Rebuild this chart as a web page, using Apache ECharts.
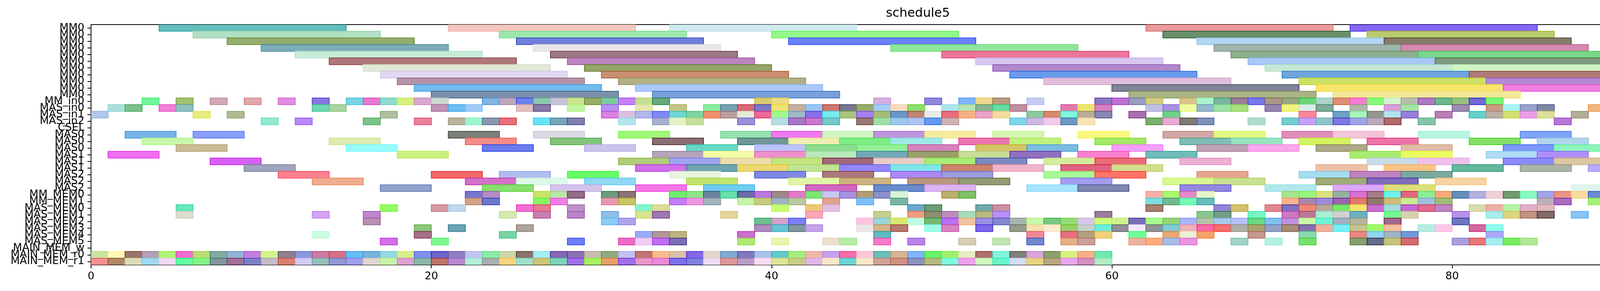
<!DOCTYPE html>
<html>
<head>
<meta charset="utf-8">
<script src="https://cdn.jsdelivr.net/npm/echarts@6/dist/echarts.min.js"></script>
<style>
html,body{margin:0;padding:0;background:#fff;}
#chart{width:4477px;height:746px;}
</style>
</head>
<body>
<div id="chart"></div>
<script>
// ---------- categories (top to bottom) ----------
const categories = [
  'MM0','MM0','MM0','MM0','MM0','MM0','MM0','MM0','MM0','MM0','MM0',
  'MM_in0','MAS_in0','MAS_in1','MAS_in2','CSEL',
  'MAS0','MAS0','MAS0','MAS1','MAS1','MAS1','MAS2','MAS2','MAS2',
  'MM_MEM0','MM_MEM1',
  'MAS_MEM0','MAS_MEM1','MAS_MEM2','MAS_MEM3','MAS_MEM4','MAS_MEM5',
  'MAIN_MEM_w','MAIN_MEM_r0','MAIN_MEM_r1'
];
const xTicks = [0, 20, 40, 60, 80];
const xMax = 97;

// ---------- task durations per row group ----------
const mm0Duration = 11;
const masDuration = 3;
const unitDuration = 1;

// ---------- task start times, one list per row ----------
const mm0Starts = [
  [4,21,34,62,74],
  [6,24,40,63,75],
  [8,25,41,65,76],
  [10,26,47,66,77],
  [12,27,50,67,78],
  [14,28,52,68,79],
  [16,29,53,69,80],
  [17,30,54,70,81],
  [18,31,56,71,82],
  [19,32,60,72,83],
  [20,33,61,73]
];
const mmIn0Starts = [3,5,7,9,11,13,15,16,17,18,19,20,23,24,25,26,27,28,29,30,31,32,33,39,40,46,49,51,52,53,55,59,60,61,62,64,65,66,67,68,69,70,71,72,73,74,75,76,77,78,79,80,81,82];
const masIn0Starts = [1,2,4,5,13,14,20,21,22,25,26,28,30,32,34,36,37,38,39,40,41,42,43,44,45,46,47,48,50,51,52,53,54,57,58,59,62,63,64,65,66,67,69,70,71,72,74,76,77,80,82,83,84,85,88,89,91,93];
const masIn1Starts = [0,6,8,17,30,31,32,33,34,35,36,37,38,39,40,41,42,43,44,45,46,47,48,49,50,51,52,53,55,56,57,58,59,61,63,71,73,74,75,76,77,79,81,82,83,84,85,87,92];
const masIn2Starts = [10,12,16,19,21,22,23,24,26,27,28,31,33,34,35,38,40,41,42,43,45,46,47,48,49,50,54,55,56,57,58,62,63,64,65,68,70,71,72,73,74,75,76,78,86,90];
const cselStarts = [];
const masStarts = [
  [2,6,21,26,31,37,40,43,46,49,53,58,63,66,70,73,78,84,89,94],
  [3,14,22,27,33,38,41,44,47,51,54,59,64,67,71,75,81,85,90],
  [5,15,23,29,35,39,42,45,48,52,55,60,65,68,72,77,83,86,92],
  [1,18,33,36,39,42,45,48,51,54,58,62,74,77,82,85,93],
  [7,31,34,37,40,43,46,49,52,56,59,64,75,78,83,86],
  [9,32,35,38,41,44,47,50,53,57,60,72,76,80,84,88],
  [11,20,24,28,34,39,43,47,50,56,59,65,71,74,77,91],
  [13,22,25,29,35,41,44,48,51,57,63,66,72,75,79],
  [17,23,27,32,36,42,46,49,55,58,64,69,73,76,87]
];
const mmMem0Starts = [22,23,26,27,28,30,31,34,35,36,37,38,39,40,41,42,43,44,45,46,47,50,51,62,63,64,65,70,71,72,73,74,75,76,77,78,79,80,81,82,83,84,85,86,87,88,89,90,91,92,93];
const mmMem1Starts = [22,23,26,27,30,31,34,35,36,38,39,40,41,43,45,47,62,63,64,65,70,71,72,73,74,75,76,77,78,79,85,86,88,89,90,92];
const masMem0Starts = [5,17,20,21,25,26,28,32,33,40,42,43,48,49,52,53,62,66,67,69,70,71,72,73,74,75,76,77,78,79,81,82,83,84,85];
const masMem1Starts = [5,13,16,24,26,28,30,32,33,37,42,46,48,49,50,51,52,53,59,65,66,68,70,71,72,73,74,76,77,80,82,83,84,85,87,91,93];
const masMem2Starts = [16,30,31,39,40,41,45,46,47,48,49,50,51,52,53,54,55,56,57,58,59,60,61,62,63,64,65,66,67,68,69,70,71,72,73,74,76,80];
const masMem3Starts = [19,21,25,39,40,41,42,45,46,47,49,50,52,54,55,56,57,58,59,60,61,62,63,64,65,66,67,68,69,70,71,72,73,74,75,76,78,79,81,82];
const masMem4Starts = [13,19,24,32,33,34,38,46,55,57,58,59,61,63,64,65,68,71,74,75,76,77,82];
const masMem5Starts = [17,20,28,31,32,33,34,38,40,43,44,46,48,51,53,55,57,58,61,62,63,64,67,69,71,74,75,76,77,80,81,82,83,84];
const mainMemWStarts = [];
const mainMemR0Starts = [0,1,2,3,4,5,6,7,8,9,10,11,12,13,14,15,16,17,18,19,20,21,22,23,24,25,26,27,28,29,30,31,32,33,34,35,36,37,38,39,40,41,42,43,44,45,46,47,48,49,50,51,52,53,54,55,56,57,58,59];
const mainMemR1Starts = [0,1,2,3,4,5,6,7,8,9,10,11,12,13,14,15,16,17,18,19,20,21,22,23,24,25,26,27,28,29,30,31,32,33,34,35,36,37,38,39,40,41,42,43,44,45,46,47,48,49,50,51,52,53,54,55,56,57,58,59];

// ---------- bar colours (parallel to the start lists) ----------
const mm0Colors = [
  ['#66bdbd','#f5c6c0','#d0eaf0','#eb9a9a','#8569f5'],
  ['#b3dfc3','#9de8ad','#94f78a','#6a8f6a','#b9cc6e'],
  ['#94ae6e','#7280d8','#6a82fa','#b2d6f2','#877b6b'],
  ['#7eacb8','#e8e6e8','#8fe69a','#a0b5ac','#d38ab0'],
  ['#c6ecd9','#9c7a88','#ec769a','#8eb08e','#7ad68a'],
  ['#ae7878','#bc85be','#d8c8f0','#a8c8f5','#7f9a80'],
  ['#e0e8d8','#95a56a','#b088cc','#c5e8d5','#d0f5c5'],
  ['#e0d8f0','#c98f70','#6a9aec','#6fa5dc','#b07a78'],
  ['#b593a8','#b3b088','#e1bfdc','#cde066','#b48ad4'],
  ['#72bcee','#abc9f8','#7f8496','#f8e56c','#ef80e0'],
  ['#7b90aa','#7a9fd8','#aab386','#f2e898']
];
const mmIn0Colors = ['#72f59a','#a0c070','#d4a8b8','#e0a8a8','#e08ee0','#8878e0','#78d4e4','#e87ad0','#90dcd0','#d4f080','#d8a8d0','#ccd8d4','#80b4e4','#bca8bc','#7080ec','#8cc8b0','#c8c4d8','#c8e490','#9aae68','#7ccca0','#c480f4','#c4e090','#66a880','#d8cc70','#ecdc80','#d4b0e0','#9088dc','#80b4f8','#ecd890','#b89c80','#c8ccf4','#8a78c0','#c070d4','#9a9cc0','#d4cc84','#d8c488','#acf4cc','#78b8a0','#9a7e98','#7878ec','#ac9888','#9aa880','#68d474','#acd4c8','#e09078','#f87cd4','#88f878','#d4f4d0','#b8bcac','#ac78c0','#6cb890','#98c080','#7068d4','#78f878'];
const masIn0Colors = ['#ace0dc','#7cc08c','#f080d8','#90c0c0','#70d8b0','#a8d4a0','#c094b8','#70c0f0','#a0ccf8','#e0c0c0','#8878a8','#c4f4a0','#b890f4','#e4e8b0','#c4c488','#88ec9c','#78a0b0','#d86a74','#7c78c8','#f0e474','#c4b0a0','#98c4f4','#cc7870','#787890','#98ac70','#a4ccfc','#f8dcc0','#90dc70','#b0e4ec','#b8e4b0','#8cb490','#68dca0','#c090a0','#e07cac','#ece470','#d480c0','#c0c0e4','#a890e0','#f0fca0','#94b8cc','#a0e0a8','#a8e080','#9484b0','#f0f480','#d8ecec','#80aa98','#b0b8a8','#d8a0d8','#a4e4a4','#9c8cb0','#c89c80','#a8f4f4','#98a4c8','#8088a8','#f4b480','#f4f460','#78e8f4','#707070'];
const masIn1Colors = ['#b0c8ec','#e8ec80','#b0bc90','#b0c0a0','#d880e0','#d8c0e0','#b0b8ec','#8088f4','#70d4d4','#80d4a0','#f09070','#b8a0a0','#e4ecd8','#ec6898','#a0f890','#a0b8c8','#8870ec','#78ecec','#a8c480','#a880f0','#a8bc78','#6898c8','#c08470','#e8ece8','#e86c80','#f8b088','#eca4c8','#f4dca0','#8cc8a0','#d8886c','#7cf8dc','#b8ac98','#8888b0','#a870b0','#70d088','#f88898','#6ca0c4','#a8f4b8','#909890','#b0e4ec','#9880d8','#b880b8','#68d0cc','#bcb0a8','#d4e070','#e8a0e4','#dce098','#b4ac98','#90e4a0'];
const masIn2Colors = ['#90e8d0','#b888f8','#7cc48c','#e8809c','#b8b4a0','#a0f4d0','#8898b0','#e87078','#68e4f4','#78a4bc','#8080b0','#b4e4ec','#a8b0d0','#e4f0c4','#c4e0a0','#9890d8','#b8dce0','#a878c4','#c878c8','#78c8c8','#9a7878','#a0e0a8','#a0c8ec','#acc4f4','#6898f0','#d0b0b0','#80d4ec','#ccb8e0','#f0cce8','#7098c0','#f8e4b8','#7ab070','#eca8d4','#807c78','#8090bc','#b0dcd0','#78cccc','#c8a0f8','#90c4cc','#8078e0','#a0a4e8','#bca8bc','#b06c6c','#88c4a8','#b878d8','#ececdc'];
const cselColors = [];
const masColors = [
  ['#78b4e8','#8aa0f8','#7a8078','#dcd8e4','#a0f878','#98e0b0','#f078f0','#d0f4c0','#c094dc','#f4eca0','#d4f4b0','#f8f880','#d4a8a4','#e0f880','#e090bc','#f4c4d8','#b8f4e0','#80a4f8','#cc94b4','#c48ce8'],
  ['#c8f8a8','#dcecb0','#f48c88','#84c47c','#8a6e74','#709898','#eeeeb0','#7cec84','#a0e8e8','#ec74b0','#c0f080','#a4e868','#80bcb4','#98e4c0','#d4f460','#ec74a8','#84e068','#b0d4ec','#d8b070'],
  ['#ccbc98','#98fcfc','#6c7cec','#ccc4ec','#68d8c4','#bcc4f8','#8cdc90','#94f098','#d484bc','#d4c468','#7cbce0','#f4a0f8','#c0a0b4','#f8a8ec','#aca888','#e0bca8','#7c98f8','#8cf4bc','#7cfc6c'],
  ['#f070f0','#ccf080','#b4a4bc','#f4fca8','#ec90cc','#b8e8bc','#74a8b8','#98a06c','#c8dc98','#9070c0','#f880cc','#70bcb8','#a8ec70','#ecfc60','#b0dcf4','#b090f8','#d890a8'],
  ['#d860f4','#b0cc78','#a0a4f0','#ecdcac','#c4e480','#a06878','#e8ccc8','#a8ec78','#7c88c0','#d4eca0','#e86c78','#ecb0d4','#c8dce8','#f0c0ec','#8c8cf8','#dcc8a0'],
  ['#a0a4bc','#d070e8','#70a4b0','#ecd870','#c0e494','#9488f8','#80e4e8','#cc8470','#f0b4c8','#e06480','#d4dc90','#ecc0a8','#f8c488','#64b8a0','#acb4a8','#b8acf8'],
  ['#ff8090','#f46868','#b0bcf0','#68fc68','#e8f4e0','#8088e4','#ac787c','#ac88f4','#9c9ce0','#a8f898','#ff7468','#e8a490','#a4dcf0','#bc84c0','#7aaaa0','#bcb09c'],
  ['#f0ac90','#d470c8','#dcf8e8','#90d8f4','#c0e470','#e0f4a8','#ccb480','#b89880','#949c74','#a49cf0','#d8f890','#c8e090','#a0ac78','#806cbc','#f8d4a4'],
  ['#90a4cc','#88e070','#d4c4ec','#f478e8','#70ccf0','#d068c0','#6a8ccc','#dcb4f4','#a8e4fc','#8088b0','#9488e0','#b0e8ec','#dca8f8','#dce07c','#e0f4ec']
];
const mmMem0Colors = ['#7878d0','#b88cc8','#c8e468','#b8e8a8','#946c88','#6c9c80','#8c7474','#70f070','#90e488','#6c84a0','#68e0a8','#6c6ca8','#b878e0','#a08888','#e07cc8','#80e478','#c8c8f4','#a890e0','#b09c78','#8c90c8','#d8f4d8','#bcb070','#80c068','#f8b0a8','#a8f870','#e488c8','#e8f4c8','#a8e490','#98f480','#d8e080','#98b0a0','#d870d0','#a87c88','#70f0e8','#e06880','#88ec98','#f8a878','#6690bc','#b4b0e0','#f0d0d8','#709c70','#88f8c0','#a0a4e8','#ec9484','#f8dca0','#6c8cd4','#b8a078','#88a0b8','#a0e8e8','#c8c0cc','#90ec90'];
const mmMem1Colors = ['#d0a484','#6c78cc','#88f860','#f080e4','#e898b0','#c8c468','#c080f4','#e898e0','#a4b4c0','#c4f4a8','#c4cc80','#a0b4c0','#b8c8a0','#e0a490','#80c0f8','#7cb4a8','#80dce0','#74b890','#78f8b8','#68bcbc','#fcb490','#a888a8','#9c8cd8','#9c64b0','#e07c6c','#907868','#ccbc78','#c8ec90','#a0c0dc','#a0bc78','#bcb0b8','#a86cc0','#a8f078','#e0b078','#d8f0d0','#a86070'];
const masMem0Colors = ['#68e8b8','#98f868','#d898a4','#c0d8ec','#f070d0','#e87890','#bc94c8','#88f4cc','#dcdc98','#c8fc78','#ecc878','#e4c0e0','#6ca8cc','#6c9c78','#74a8a8','#cc90a4','#a88070','#9484d4','#d4c070','#e08890','#8070c0','#f08878','#b8a898','#78e868','#f4e470','#c870d0','#a4dcdc','#c468d4','#e06c8c','#c084c0','#d8dcb0','#ecb0a8','#b8f0a8','#e0b0c8','#e0b8c0'];
const masMem1Colors = ['#dcdcd0','#d4a4f4','#c084d0','#d4e8b0','#c880b0','#bc84c8','#90bce8','#d8e490','#a078b4','#e4d4a0','#f8a8b8','#c4d090','#f09c80','#8c9070','#bc8cb8','#a8dcb8','#b8b880','#b890f8','#9c7c9c','#88c890','#749c88','#78f4c4','#cc78c0','#bc7898','#acecd4','#d0d0d0','#70b0c0','#78f890','#d8d0b0','#b890e8','#a8ecec','#dcd480','#c09484','#806c6c','#88c4f8','#8888f8','#8c88ec'];
const masMem2Colors = ['#b890b0','#88ccf8','#b0a4ec','#6cc090','#d0a4cc','#7c80f4','#fcc4e0','#9cd4d8','#d8e870','#c0fce4','#74b874','#b870f8','#f0c4a0','#9c90e0','#8488cc','#a8b4b0','#c8f8a8','#78c880','#98dc78','#d8c8e8','#ccfc80','#d0f090','#7870b8','#a8f890','#94d478','#acb4f8','#b4c4a8','#a8c8e8','#b8c0f8','#6cd888','#80c0ec','#c090dc','#c8f8a8','#70f4d0','#a0b0c0','#b4b4a0','#a06888','#6c78c0'];
const masMem3Colors = ['#8cc87c','#6ca4b4','#aca49c','#b08cbc','#68c4d0','#8098a0','#c4a4e8','#ece8e8','#d4b488','#b87870','#a0fce8','#d884c4','#7c68e8','#949c8c','#f4e0b0','#fcecd0','#98d068','#c8d0cc','#70ecd8','#909098','#f4e8f8','#909494','#80ccd4','#f0b0b8','#f868a8','#f87070','#b0b0a8','#a8a470','#94a0c8','#a88c78','#8870b0','#f0b0a0','#78f0f4','#c4c490','#a0f870','#f4c0a0','#b8ece0','#fcc8e8','#d468a0','#90fcec'];
const masMem4Colors = ['#ccfce4','#a87088','#7cd4a4','#98acf8','#b09898','#bcb480','#cc70cc','#64b8c4','#f08898','#e47080','#b4a080','#f0d07c','#70fc98','#e8a870','#ecf0d8','#f4a468','#c49890','#8cd8ac','#e88880','#90d4f0','#a0b4c4','#7498d8','#aca8f4'];
const masMem5Colors = ['#d070e8','#7cf890','#7080fc','#ec6cc4','#f0ccf4','#c070f0','#7c70b4','#b0e878','#ecf4b0','#ece0cc','#b8eca8','#f47cc8','#b884e8','#d8ccb4','#c0e4b0','#7488cc','#e4b088','#c8a098','#ecb4a0','#fcac80','#a8bce8','#e894e0','#a0d4c8','#b4f0e0','#78e070','#88a070','#666c88','#c4c480','#d46c70','#aca0dc','#e87878','#a8ecf0','#78ec60','#b0e898'];
const mainMemWColors = [];
const mainMemR0Colors = ['#c8e4a0','#fff8b8','#9c746c','#b4a0b4','#b0f478','#f070d0','#bcdc74','#80aca0','#90b4d4','#c080dc','#d4f490','#908090','#8c98dc','#cc7ca4','#d87088','#68bcf0','#78b4dc','#98d8e4','#d8f088','#8090f0','#6c64cc','#9080c0','#c4c4f4','#88eca8','#ccd8a8','#887470','#a4ecf4','#8468b4','#9070b4','#c8bcac','#90ac80','#c4c0f0','#c47474','#f8bc90','#dcc0a8','#8468e8','#e4d4cc','#80acd0','#8078c0','#a8c0ec','#64c8cc','#a8ec80','#f0b8a8','#c8a0f0','#f86cac','#fcc8d8','#68c0bc','#d4b494','#80b4fc','#68f468','#a0f070','#e8ecc4','#b07070','#80f4dc','#808078','#d8a4dc','#8ca070','#d8f080','#f8b088','#70e8b0'];
const mainMemR1Colors = ['#f49090','#b08868','#dcdcb8','#a0d8f0','#f0d8f0','#68fca0','#88f488','#8098a0','#a07098','#8080c8','#c4bcc8','#d88070','#d4ccf4','#98c0b8','#9098d4','#a0a0e8','#e0d8d0','#c8f4a8','#e0a0d4','#88b8a8','#c07468','#b888d0','#b0f0d8','#a8b0b0','#f8d480','#a0e0cc','#ccc478','#7cd4b8','#a070e8','#a8f060','#e8a068','#a070e8','#e898c8','#ec88d8','#8070f0','#8080e0','#ecdcf4','#dc9898','#bc9cc8','#fcdcf0','#dce498','#c8cc88','#e0b8e8','#f8e8c8','#6cd4d4','#f8e8c8','#d0a498','#d09480','#9090c0','#b4bc80','#80f8dc','#f0a0ec','#d0f8c0','#68f4cc','#d4dcf4','#e8d480','#b8a880','#e8a8f0','#d490c0','#b0ecc0'];

// ---------- assemble rows: [starts, colors, duration] ----------
const rows = [];
mm0Starts.forEach((s, i) => rows.push([s, mm0Colors[i], mm0Duration]));
rows.push([mmIn0Starts, mmIn0Colors, unitDuration]);
rows.push([masIn0Starts, masIn0Colors, unitDuration]);
rows.push([masIn1Starts, masIn1Colors, unitDuration]);
rows.push([masIn2Starts, masIn2Colors, unitDuration]);
rows.push([cselStarts, cselColors, unitDuration]);
masStarts.forEach((s, i) => rows.push([s, masColors[i], masDuration]));
rows.push([mmMem0Starts, mmMem0Colors, unitDuration]);
rows.push([mmMem1Starts, mmMem1Colors, unitDuration]);
rows.push([masMem0Starts, masMem0Colors, unitDuration]);
rows.push([masMem1Starts, masMem1Colors, unitDuration]);
rows.push([masMem2Starts, masMem2Colors, unitDuration]);
rows.push([masMem3Starts, masMem3Colors, unitDuration]);
rows.push([masMem4Starts, masMem4Colors, unitDuration]);
rows.push([masMem5Starts, masMem5Colors, unitDuration]);
rows.push([mainMemWStarts, mainMemWColors, unitDuration]);
rows.push([mainMemR0Starts, mainMemR0Colors, unitDuration]);
rows.push([mainMemR1Starts, mainMemR1Colors, unitDuration]);

const fallback = ['#a0c0e0','#e0a0a0','#a0e0a0','#e0e0a0','#c0a0e0'];
const data = [];
rows.forEach((r, rowIdx) => {
  const [starts, colors, dur] = r;
  starts.forEach((s, k) => {
    data.push({
      value: [s, s + dur, rowIdx],
      itemStyle: { color: colors[k] || fallback[k % fallback.length] }
    });
  });
});

function edgeOf(hex) {
  const ch = [1, 3, 5].map(i => parseInt(hex.slice(i, i + 2), 16));
  const out = ch.map(c => {
    const base = Math.max(0, 255 - (255 - c) / 0.6);
    return Math.round(base * 0.6 + c * 0.4);
  });
  return 'rgb(' + out.join(',') + ')';
}

function renderItem(params, api) {
  const row = api.value(2);
  const p0 = api.coord([api.value(0), row]);
  const p1 = api.coord([api.value(1), row]);
  const h = api.size([0, 1])[1];
  const color = api.visual('color');
  return {
    type: 'rect',
    shape: { x: p0[0], y: p0[1] - h / 2, width: p1[0] - p0[0], height: h },
    style: { fill: color, stroke: edgeOf(color), lineWidth: 2 }
  };
}

const chart = echarts.init(document.getElementById('chart'), null, { renderer: 'canvas' });
const font = 'DejaVu Sans';
chart.setOption({
  animation: false,
  backgroundColor: '#ffffff',
  title: {
    text: 'schedule5',
    left: 2345,
    textAlign: 'center',
    top: 14,
    textStyle: { fontFamily: font, fontSize: 32, fontWeight: 'normal', color: '#000' }
  },
  grid: {
    left: 233, right: 19, top: 63, bottom: 67,
    show: true, borderColor: '#000', borderWidth: 2, backgroundColor: 'transparent'
  },
  xAxis: {
    type: 'value',
    min: 0, max: xMax, interval: 20,
    splitLine: { show: false },
    axisLine: { show: true, lineStyle: { color: '#000', width: 2 } },
    axisTick: { show: true, length: 9, lineStyle: { color: '#000', width: 2 } },
    axisLabel: {
      margin: 16, fontFamily: font, fontSize: 27, color: '#000',
      formatter: v => (xTicks.indexOf(v) >= 0 ? String(v) : '')
    }
  },
  yAxis: {
    type: 'category',
    data: categories,
    inverse: true,
    axisLine: { show: true, lineStyle: { color: '#000', width: 2 } },
    axisTick: { show: true, alignWithLabel: true, length: 9, interval: 0, lineStyle: { color: '#000', width: 2 } },
    axisLabel: { interval: 0, margin: 17, fontFamily: font, fontSize: 27, color: '#000' },
    splitLine: { show: false }
  },
  series: [{
    type: 'custom',
    renderItem: renderItem,
    encode: { x: [0, 1], y: 2 },
    data: data,
    clip: true
  }]
});
</script>
</body>
</html>
